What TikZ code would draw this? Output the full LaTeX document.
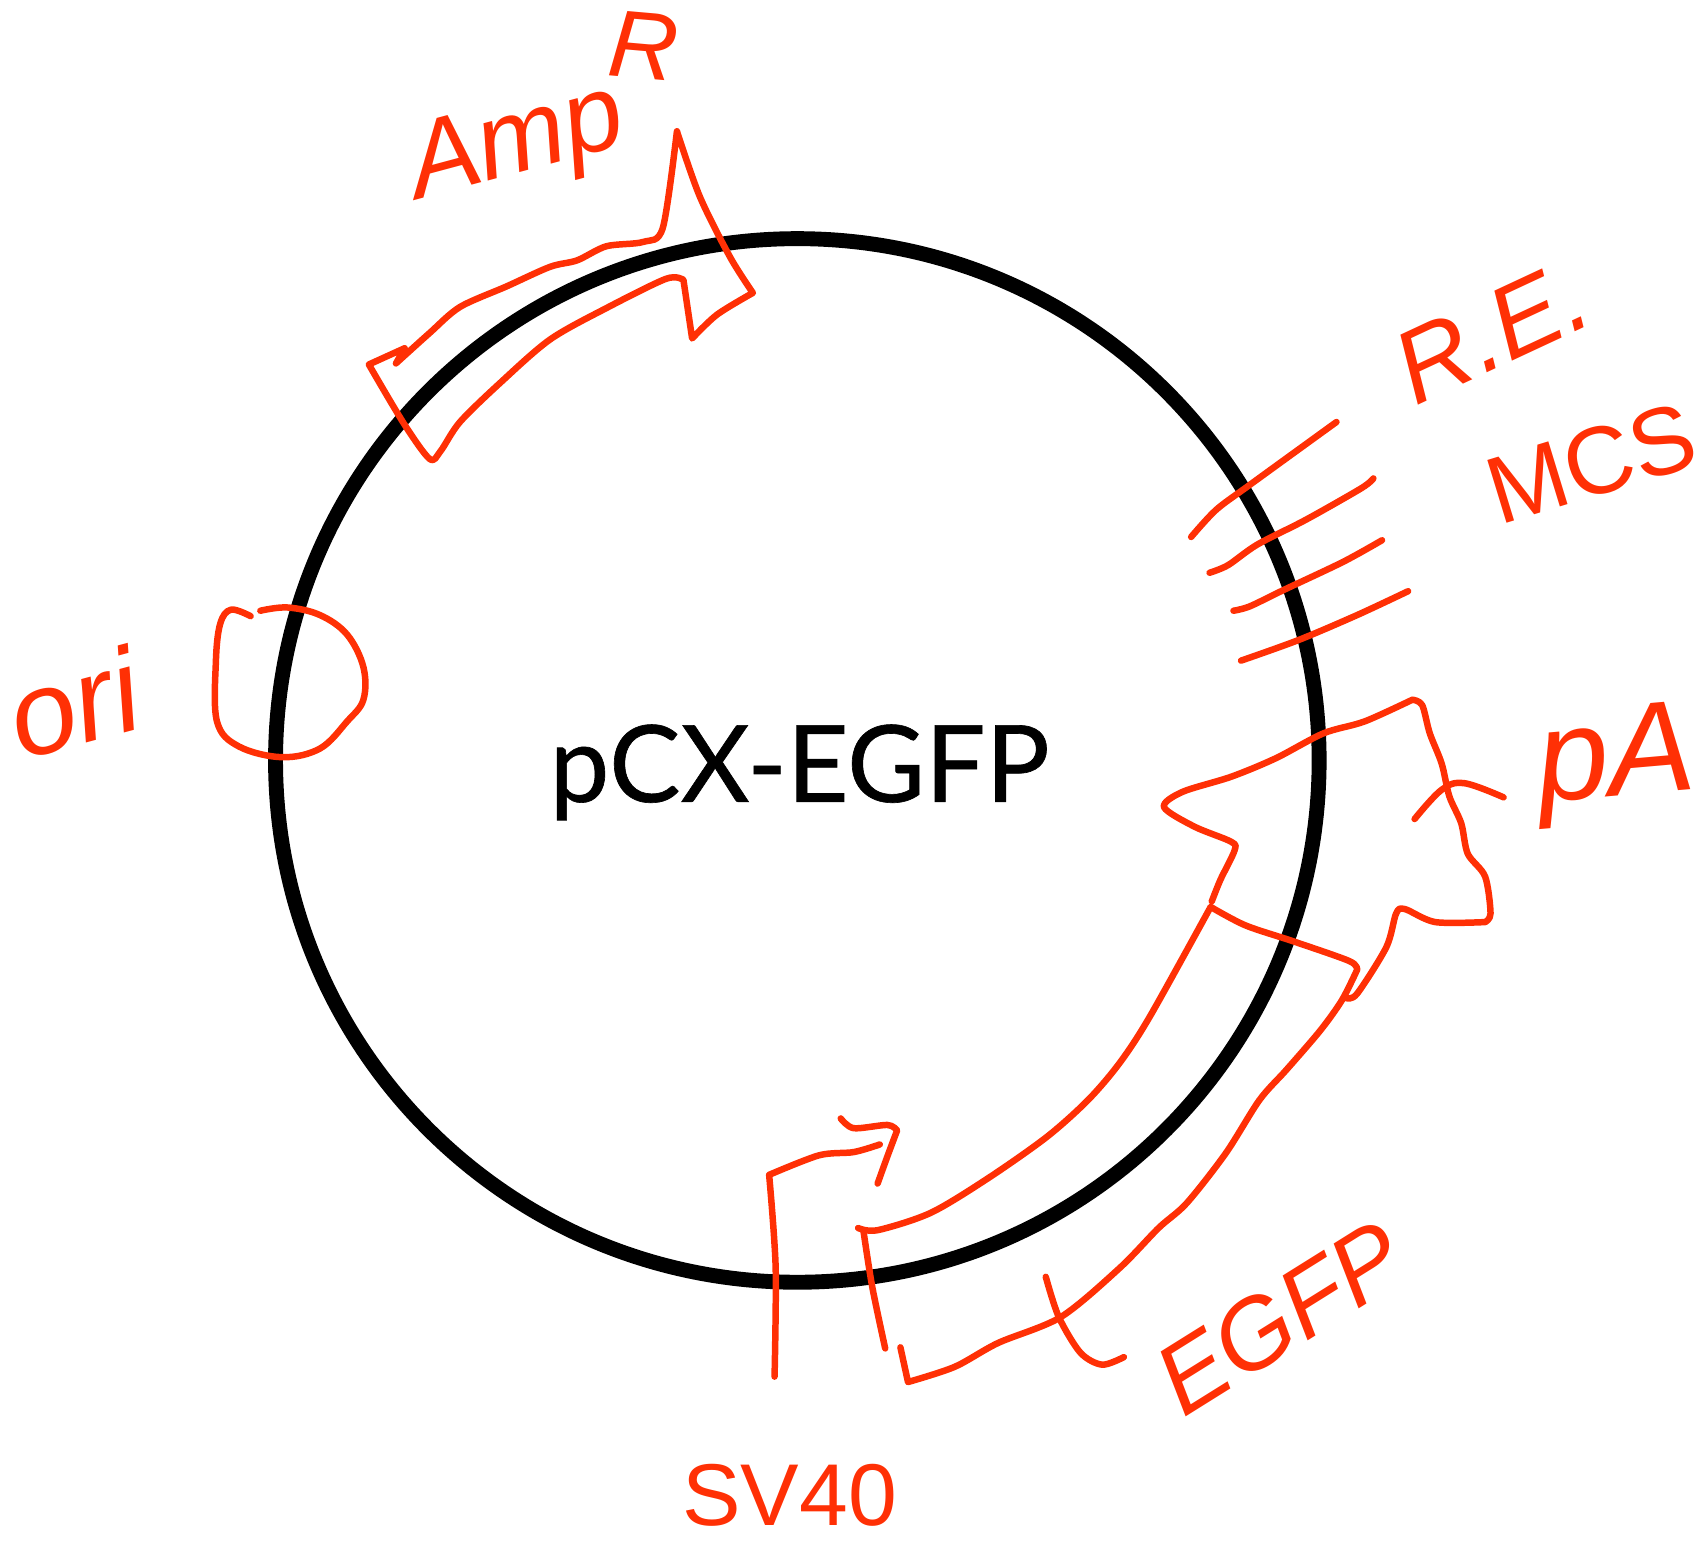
\documentclass[tikz,border=0pt]{standalone}
\usepackage{fontspec}
\setmainfont{Lato}
\newfontfamily\handfont{Liberation Sans}
\definecolor{handred}{RGB}{255,48,5}
\tikzset{
  ringline/.style={line width=3.9pt,black},
  redline/.style={line width=1.7pt,color=handred,line cap=round,line join=round},
  handlabel/.style={text=handred,inner sep=0pt},
}

\begin{document}
\begin{tikzpicture}[x=.01cm,y=-.01cm]
      \useasboundingbox (0,0) rectangle (1568,1425);

      % plasmid
      \draw[ringline] (735,701) circle (481);
      \node (name) at (737,712) [font=\addfontfeature{FakeBold=0.6}\fontsize{28pt}{28pt}\selectfont] {pCX-EGFP};

      % ampr
      \draw[redline] (365,335) -- (373,321) -- (340,336) -- plot[smooth,tension=.5] coordinates {(340,336) (372,390) (396,423) (406,416) (424,389) (461,353) (507,313) (559,284) (614,257) (630,258)}
        -- (638,312) -- plot[smooth,tension=.5] coordinates {(638,312) (661,290) (694,270)}
        -- plot[smooth,tension=.5] coordinates {(694,270) (673,237) (645,181) (624,121)}
        -- plot[smooth,tension=.5] coordinates {(624,121) (611,210) (593,223) (559,227) (532,240) (507,246) (467,264) (424,283) (396,307) (365,335)};
      \node (amp) at (477,135) [handlabel,rotate=15,font=\handfont\itshape\fontsize{28pt}{28pt}\selectfont] {Amp};
      \node (ampr) at (593,42) [handlabel,rotate=-5,font=\handfont\itshape\fontsize{25pt}{25pt}\selectfont] {R};

      % ori
      \draw[redline] plot[smooth,tension=.6] coordinates {(231,568) (213,562) (203,575) (199,610) (200,665) (220,688) (260,698) (295,690) (320,665) (335,645) (335,615) (320,585) (295,567) (265,560) (240,563)};
      \node (ori) at (68,648) [handlabel,rotate=15,font=\handfont\itshape\fontsize{31pt}{31pt}\selectfont] {ori};

      % re sites
      \draw[redline] plot[smooth,tension=.5] coordinates {(1098,495) (1121,470) (1152,447) (1232,389)};
      \draw[redline] plot[smooth,tension=.5] coordinates {(1115,528) (1132,521) (1159,502) (1204,479) (1255,450) (1266,441)};
      \draw[redline] plot[smooth,tension=.5] coordinates {(1137,563) (1152,559) (1183,544) (1238,518) (1274,498)};
      \draw[redline] plot[smooth,tension=.5] coordinates {(1144,609) (1197,590) (1251,567) (1298,545)};
      \node (re) at (1375,306) [handlabel,rotate=25,font=\handfont\itshape\fontsize{27pt}{27pt}\selectfont] {R.E.};
      \node (mcs) at (1467,427) [handlabel,rotate=17,font=\handfont\fontsize{25pt}{25pt}\selectfont] {MCS};

      % egfp
      \draw[redline] plot[smooth,tension=.5] coordinates {(1117,831) (1125,811) (1138,784) (1135,776) (1101,762) (1073,744) (1090,730) (1135,716) (1176,699) (1220,676) (1258,665) (1302,645)}
        -- plot[smooth,tension=.5] coordinates {(1302,645) (1311,650) (1318,676) (1329,704) (1336,734) (1347,759) (1353,787) (1369,808) (1374,842) (1369,850)}
        -- plot[smooth,tension=.5] coordinates {(1369,850) (1323,850) (1295,838) (1287,842) (1278,873) (1251,916) (1241,920)};
      \draw[redline] plot[smooth,tension=.5] coordinates {(791,1132) (809,1134) (858,1118) (911,1086) (965,1048) (1003,1014) (1032,980) (1060,937) (1116,836)}
        -- plot[smooth,tension=.5] coordinates {(1116,836) (1148,853) (1193,868) (1244,886) (1251,894)}
        -- plot[smooth,tension=.5] coordinates {(1251,894) (1237,922) (1217,950) (1186,986) (1161,1014) (1130,1063) (1094,1109) (1068,1132) (1032,1169) (978,1214) (920,1238) (880,1260) (837,1274)}
        -- (830,1242);
      \draw[redline] plot[smooth,tension=.5] coordinates {(796,1135) (804,1186) (816,1243)};
      \draw[redline] plot[smooth,tension=.5] coordinates {(964,1177) (976,1214) (996,1247) (1016,1258) (1036,1251)};
      \node (egfp) at (1180,1215) [handlabel,rotate=32,font=\handfont\itshape\fontsize{26pt}{26pt}\selectfont] {EGFP};

      % pa
      \draw[redline] plot[smooth,tension=.6] coordinates {(1304,755) (1329,728) (1350,722) (1386,735)};
      \node (pa) at (1490,705) [handlabel,rotate=5,font=\handfont\itshape\fontsize{34pt}{34pt}\selectfont] {pA};

      % sv40
      \draw[redline] plot[smooth,tension=.5] coordinates {(714,1269) (715,1168) (709,1083)}
        -- plot[smooth,tension=.5] coordinates {(709,1083) (755,1065) (787,1062) (811,1055)};
      \draw[redline] plot[smooth,tension=.5] coordinates {(775,1031) (787,1040) (818,1037) (827,1042)}
        -- plot[smooth,tension=.5] coordinates {(827,1042) (818,1066) (809,1091)};
      \node (sv) at (728,1378) [handlabel,font=\handfont\fontsize{23pt}{23pt}\selectfont] {SV40};

\end{tikzpicture}
\end{document}
